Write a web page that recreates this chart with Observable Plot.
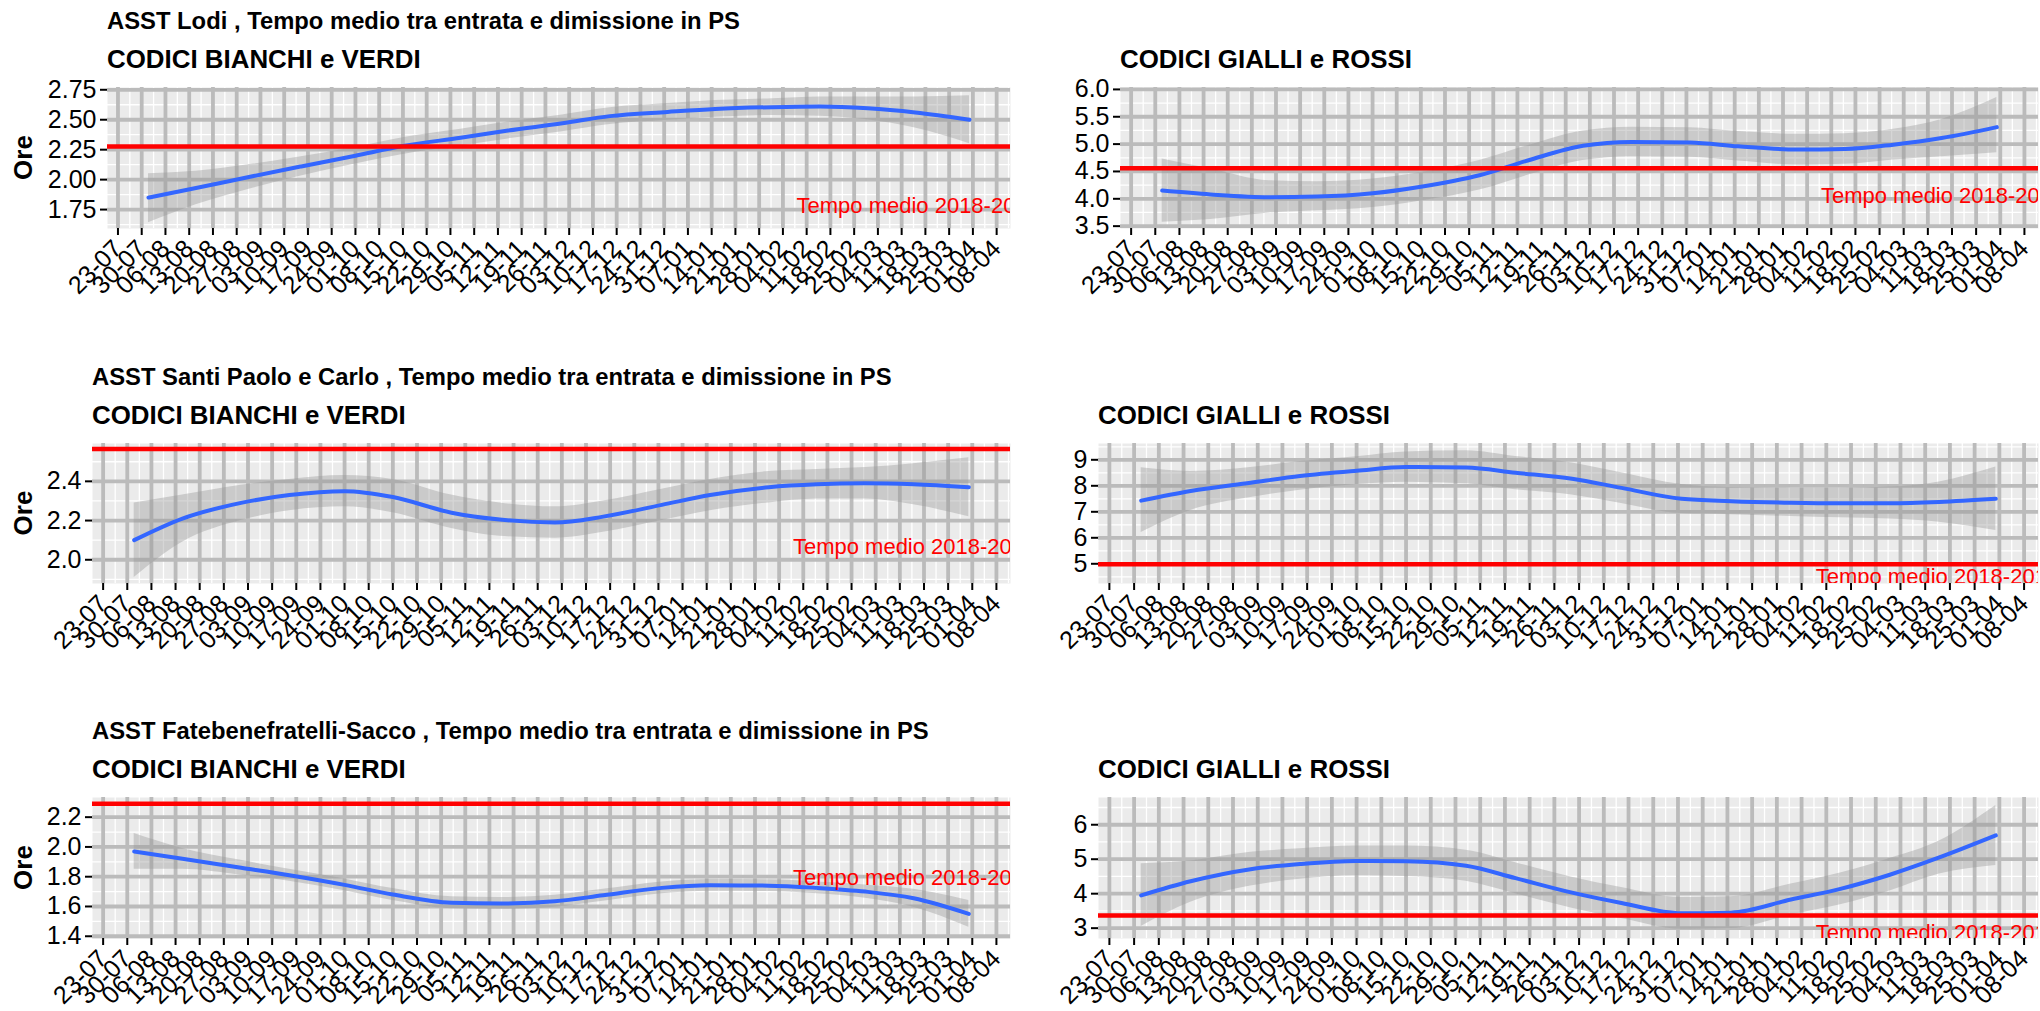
<!DOCTYPE html>
<html><head><meta charset="utf-8">
<script src="https://cdn.jsdelivr.net/npm/d3@7"></script>
<script src="https://cdn.jsdelivr.net/npm/@observablehq/plot@0.6"></script>
<style>
html,body{margin:0;padding:0;background:#fff;}
#root{position:relative;width:2040px;height:1011px;overflow:hidden;font-family:"Liberation Sans",Arial,sans-serif;background:#fff;}
.cell{position:absolute;}
.cell svg{display:block;overflow:visible;}
#overlay{position:absolute;left:0;top:0;pointer-events:none;}
</style></head><body><div id="root"></div>
<script>
// ---------------- DATA ----------------
const tickDates = ["2018-07-23","2018-07-30","2018-08-06","2018-08-13","2018-08-20","2018-08-27","2018-09-03","2018-09-10","2018-09-17","2018-09-24","2018-10-01","2018-10-08","2018-10-15","2018-10-22","2018-10-29","2018-11-05","2018-11-12","2018-11-19","2018-11-26","2018-12-03","2018-12-10","2018-12-17","2018-12-24","2018-12-31","2019-01-07","2019-01-14","2019-01-21","2019-01-28","2019-02-04","2019-02-11","2019-02-18","2019-02-25","2019-03-04","2019-03-11","2019-03-18","2019-03-25","2019-04-01","2019-04-08"];
const tickLabels = ["23-07","30-07","06-08","13-08","20-08","27-08","03-09","10-09","17-09","24-09","01-10","08-10","15-10","22-10","29-10","05-11","12-11","19-11","26-11","03-12","10-12","17-12","24-12","31-12","07-01","14-01","21-01","28-01","04-02","11-02","18-02","25-02","04-03","11-03","18-03","25-03","01-04","08-04"];

const fitDates = ["2018-08-01","2018-08-15","2018-09-01","2018-09-15","2018-10-01","2018-10-15","2018-11-01","2018-11-15","2018-12-01","2018-12-15","2019-01-01","2019-01-15","2019-02-01","2019-02-15","2019-03-01","2019-03-15","2019-03-31"];

const hospitals = ["ASST Lodi", "ASST Santi Paolo e Carlo", "ASST Fatebenefratelli-Sacco"];
const titleSuffix = " , Tempo medio tra entrata e dimissione in PS";
const groups = ["CODICI BIANCHI e VERDI", "CODICI GIALLI e ROSSI"];
const refLabel = "Tempo medio 2018-2019";
const refLabelDate = "2019-02-08";
const yTitle = "Ore";

// Lodi - bianchi/verdi
const lodiBV_fit = [1.85,1.93,2.03,2.11,2.20,2.28,2.35,2.41,2.47,2.53,2.565,2.59,2.605,2.61,2.595,2.56,2.50];
const lodiBV_hi  = [2.05,2.07,2.13,2.19,2.27,2.35,2.42,2.48,2.54,2.60,2.635,2.66,2.675,2.69,2.69,2.69,2.70];
const lodiBV_lo  = [1.64,1.79,1.93,2.03,2.13,2.21,2.28,2.34,2.40,2.46,2.495,2.52,2.535,2.53,2.50,2.43,2.30];
const lodiBV_ref = 2.277;
// Lodi - gialli/rossi
const lodiGR_fit = [4.15,4.08,4.03,4.04,4.10,4.22,4.43,4.70,4.97,5.04,5.03,4.96,4.90,4.91,4.99,5.11,5.31];
const lodiGR_hi  = [4.73,4.55,4.33,4.31,4.36,4.48,4.70,4.97,5.24,5.31,5.30,5.23,5.18,5.19,5.27,5.45,5.85];
const lodiGR_lo  = [3.57,3.62,3.74,3.78,3.84,3.96,4.16,4.43,4.70,4.77,4.76,4.69,4.62,4.63,4.71,4.77,4.84];
const lodiGR_ref = 4.56;
// Santi Paolo e Carlo - bianchi/verdi
const spcBV_fit = [2.10,2.21,2.29,2.33,2.35,2.32,2.24,2.205,2.19,2.22,2.28,2.33,2.37,2.385,2.39,2.385,2.37];
const spcBV_hi  = [2.29,2.33,2.38,2.41,2.43,2.41,2.33,2.29,2.27,2.30,2.36,2.41,2.45,2.46,2.47,2.49,2.52];
const spcBV_lo  = [1.91,2.09,2.20,2.25,2.27,2.24,2.16,2.12,2.11,2.14,2.20,2.25,2.29,2.31,2.31,2.28,2.22];
const spcBV_ref = 2.565;
// Santi Paolo e Carlo - gialli/rossi
const spcGR_fit = [7.43,7.80,8.12,8.38,8.58,8.72,8.70,8.50,8.27,7.92,7.50,7.41,7.35,7.33,7.33,7.38,7.50];
const spcGR_hi  = [8.69,8.55,8.70,8.93,9.12,9.30,9.35,9.13,8.88,8.50,8.05,7.93,7.90,7.90,7.95,8.15,8.72];
const spcGR_lo  = [6.20,7.05,7.55,7.83,8.05,8.14,8.08,7.85,7.65,7.32,6.93,6.89,6.82,6.77,6.72,6.60,6.28];
const spcGR_ref = 4.98;
// Fatebenefratelli-Sacco - bianchi/verdi
const fbfBV_fit = [1.97,1.92,1.86,1.81,1.745,1.68,1.625,1.62,1.635,1.675,1.725,1.742,1.74,1.725,1.70,1.655,1.55];
const fbfBV_hi  = [2.09,1.99,1.91,1.85,1.785,1.72,1.665,1.66,1.675,1.715,1.765,1.782,1.78,1.765,1.745,1.715,1.64];
const fbfBV_lo  = [1.85,1.85,1.81,1.77,1.705,1.64,1.585,1.58,1.595,1.635,1.685,1.702,1.70,1.685,1.655,1.595,1.46];
const fbfBV_ref = 2.29;
// Fatebenefratelli-Sacco - gialli/rossi
const fbfGR_fit = [3.95,4.36,4.71,4.86,4.95,4.94,4.81,4.45,4.03,3.73,3.43,3.45,3.83,4.14,4.55,5.05,5.69];
const fbfGR_hi  = [4.87,4.95,5.20,5.30,5.38,5.38,5.26,4.90,4.48,4.18,3.89,3.91,4.28,4.60,5.02,5.53,6.56];
const fbfGR_lo  = [3.05,3.75,4.22,4.42,4.52,4.50,4.36,4.00,3.58,3.28,2.97,2.99,3.38,3.68,4.08,4.57,4.82];
const fbfGR_ref = 3.37;

// y axis breaks
const lodiBV_ticks = [1.75,2.00,2.25,2.50,2.75];
const lodiGR_ticks = [3.5,4.0,4.5,5.0,5.5,6.0];
const spcBV_ticks  = [2.0,2.2,2.4];
const spcGR_ticks  = [5,6,7,8,9];
const fbfBV_ticks  = [1.4,1.6,1.8,2.0,2.2];
const fbfGR_ticks  = [3,4,5,6];

// ---------------- LAYOUT ----------------
const FONT = '"Liberation Sans", Arial, Helvetica, sans-serif';
const P = s => new Date(s + "T00:00:00Z");
const xDomain = [new Date("2018-07-19T22:00:00Z"), new Date("2019-04-12T02:00:00Z")];
const ticksX = tickDates.map(P);
const labelByTime = new Map(ticksX.map((d, i) => [+d, tickLabels[i]]));
const minorX = ticksX.map(d => new Date(+d + 3.5 * 864e5)).filter(d => d > xDomain[0] && d < xDomain[1]);

const panels = [
  {row:0, col:0, fit:lodiBV_fit, hi:lodiBV_hi, lo:lodiBV_lo, ref:lodiBV_ref, ticks:lodiBV_ticks, fmt:d3.format(".2f"), yDomain:[1.592,2.769], top:87,  h:141, ml:107},
  {row:0, col:1, fit:lodiGR_fit, hi:lodiGR_hi, lo:lodiGR_lo, ref:lodiGR_ref, ticks:lodiGR_ticks, fmt:d3.format(".1f"), yDomain:[3.457,6.035], top:87,  h:141, ml:100},
  {row:1, col:0, fit:spcBV_fit,  hi:spcBV_hi,  lo:spcBV_lo,  ref:spcBV_ref,  ticks:spcBV_ticks,  fmt:d3.format(".1f"), yDomain:[1.879,2.593], top:443, h:140, ml:92},
  {row:1, col:1, fit:spcGR_fit,  hi:spcGR_hi,  lo:spcGR_lo,  ref:spcGR_ref,  ticks:spcGR_ticks,  fmt:d3.format("d"),   yDomain:[4.242,9.627], top:443, h:140, ml:78},
  {row:2, col:0, fit:fbfBV_fit,  hi:fbfBV_hi,  lo:fbfBV_lo,  ref:fbfBV_ref,  ticks:fbfBV_ticks,  fmt:d3.format(".1f"), yDomain:[1.385,2.332], top:797, h:141, ml:92},
  {row:2, col:1, fit:fbfGR_fit,  hi:fbfGR_hi,  lo:fbfGR_lo,  ref:fbfGR_ref,  ticks:fbfGR_ticks,  fmt:d3.format("d"),   yDomain:[2.70,6.79],  top:797, h:141, ml:78}
];

const root = document.getElementById("root");
const MT = 20, MB = 130;

for (const p of panels) {
  const data = fitDates.map((d, i) => ({date: P(d), fit: p.fit[i], hi: p.hi[i], lo: p.lo[i]}));
  const step = p.ticks[1] - p.ticks[0];
  const minorY = [p.ticks[0] - step / 2, ...p.ticks.map(t => t + step / 2)]
    .filter(v => v > p.yDomain[0] && v < p.yDomain[1]);
  const mr = p.col === 0 ? 10 : 2;
  const chart = Plot.plot({
    width: 1020,
    height: p.h + MT + MB,
    marginTop: MT, marginBottom: MB, marginLeft: p.ml, marginRight: mr,
    style: {fontFamily: FONT, fontSize: "25px", color: "#000", background: "none", overflow: "visible"},
    x: {type: "utc", domain: xDomain},
    y: {domain: p.yDomain},
    marks: [
      Plot.frame({fill: "#EBEBEB", stroke: null}),
      Plot.ruleX(minorX, {stroke: "#FFFFFF", strokeWidth: 1.3}),
      Plot.ruleY(minorY, {stroke: "#FFFFFF", strokeWidth: 1.3}),
      Plot.ruleX(ticksX, {stroke: "#BBBBBB", strokeWidth: 3.8}),
      Plot.ruleY(p.ticks, {stroke: "#BBBBBB", strokeWidth: 3.8}),
      Plot.areaY(data, {x: "date", y1: "lo", y2: "hi", fill: "#999999", fillOpacity: 0.4, curve: "monotone-x"}),
      Plot.line(data, {x: "date", y: "fit", stroke: "#3366FF", strokeWidth: 4, curve: "monotone-x"}),
      Plot.ruleY([p.ref], {stroke: "#FF0000", strokeWidth: 4.5}),
      Plot.text([{d: P(refLabelDate), v: p.ref - 0.5, t: refLabel}],
        {x: "d", y: "v", text: "t", fill: "#FF0000", textAnchor: "start", fontSize: 22, clip: true}),
      Plot.axisX({ticks: ticksX, tickFormat: d => labelByTime.get(+d), tickRotate: -45,
        tickSize: 7, tickPadding: 9, strokeWidth: 2, fill: "#000", fontSize: 25, label: null}),
      Plot.axisY({ticks: p.ticks, tickFormat: p.fmt, tickSize: 7, tickPadding: 4,
        strokeWidth: 2, fill: "#000", fontSize: 25, label: null})
    ]
  });
  const cell = document.createElement("div");
  cell.className = "cell";
  cell.style.left = (p.col * 1020) + "px";
  cell.style.top = (p.top - MT) + "px";
  cell.appendChild(chart);
  root.appendChild(cell);
}

// titles, subtitles and y-axis titles
const ns = "http://www.w3.org/2000/svg";
const ov = document.createElementNS(ns, "svg");
ov.setAttribute("id", "overlay");
ov.setAttribute("width", 2040);
ov.setAttribute("height", 1011);
function addText(txt, x, y, size, opts = {}) {
  const t = document.createElementNS(ns, "text");
  t.setAttribute("x", x); t.setAttribute("y", y);
  t.setAttribute("font-family", FONT);
  t.setAttribute("font-size", size);
  t.setAttribute("font-weight", "bold");
  t.setAttribute("fill", "#000");
  if (opts.anchor) t.setAttribute("text-anchor", opts.anchor);
  if (opts.baseline) t.setAttribute("dominant-baseline", opts.baseline);
  if (opts.rotate) t.setAttribute("transform", `rotate(${opts.rotate},${x},${y})`);
  t.textContent = txt;
  ov.appendChild(t);
}
for (const p of panels) {
  const x = p.col * 1020 + p.ml;
  if (p.col === 0) addText(hospitals[p.row] + titleSuffix, x, p.top - 58, 23.8);
  addText(groups[p.col], x, p.top - 19.5, 25.9);
  if (p.col === 0) addText(yTitle, 23, p.top + p.h / 2, 26, {anchor: "middle", baseline: "central", rotate: -90});
}
root.appendChild(ov);
</script>
</body></html>
